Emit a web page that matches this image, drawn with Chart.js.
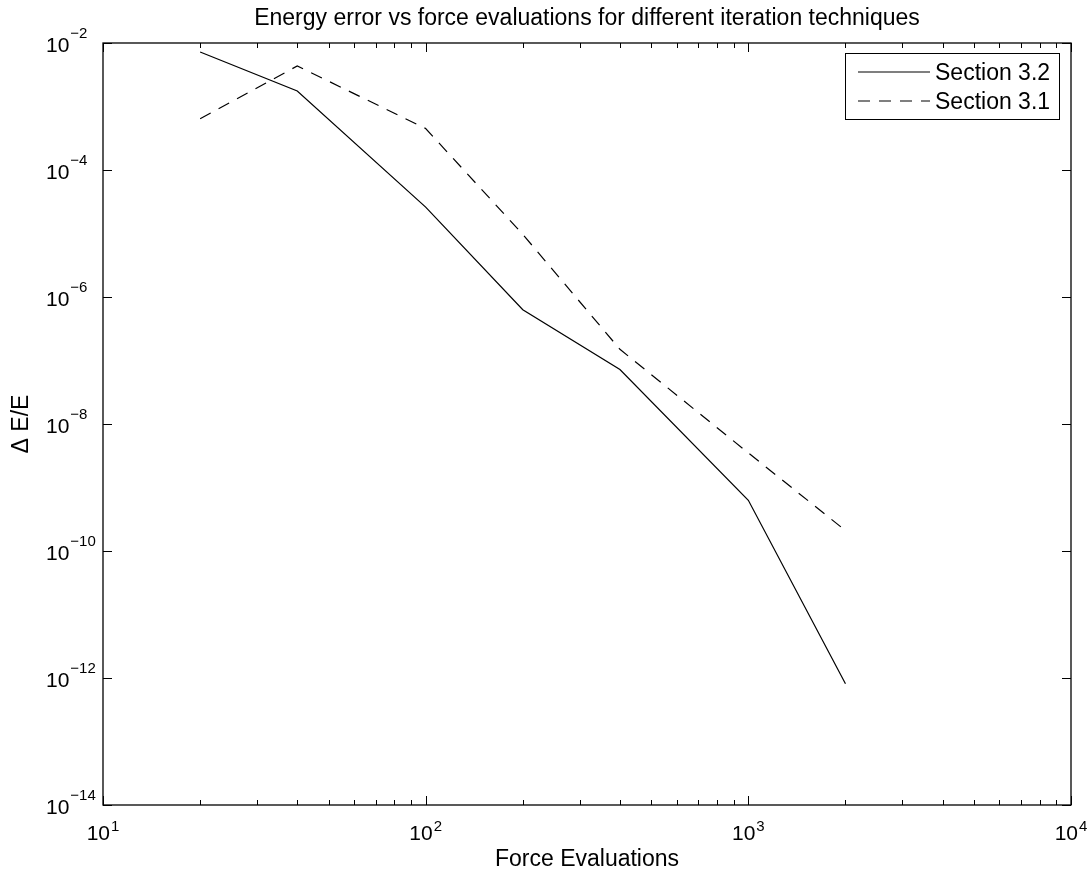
<!DOCTYPE html>
<html>
<head>
<meta charset="utf-8">
<title>Energy error vs force evaluations</title>
<script src="https://cdn.jsdelivr.net/npm/chart.js@4/dist/chart.umd.min.js"></script>
<style>
  body { margin: 0; background: #fff; }
  canvas { display: block; }
</style>
</head>
<body>
<canvas id="erroForca" width="1092" height="873"></canvas>
<script>
// Eixo X: numero de avaliacoes de forca
const forceEvals = [20, 40, 100, 200, 400, 1000, 2000]

// Erro de energia relativo de cada tecnica
const section32 = [7.2e-3, 1.75e-3, 2.6e-5, 6.3e-7, 7.2e-8, 6.3e-10, 8.1e-13]
const section31 = [6.4e-4, 4.35e-3, 4.5e-4, 9.7e-6, 1.5e-7, 3.5e-9, 2.1e-10]

// Expoentes dos rotulos dos eixos (10^n)
const xTickExp = [1, 2, 3, 4]
const yTickExp = [-14, -12, -10, -8, -6, -4, -2]

const seriesNames = ['Section 3.2', 'Section 3.1']

const FONT = '"Liberation Sans", Arial, Helvetica, sans-serif'
const TEXTO = '23px ' + FONT   // titulos e legenda
const NUM = '21px ' + FONT     // "10" dos rotulos
const EXP = '15px ' + FONT     // expoente
const dash = [12, 9]

function pontos(ys) {
    return forceEvals.map((x, i) => ({ x: x, y: ys[i] }))
}

function expoente(n) {
    return n < 0 ? '\u2212' + Math.abs(n) : String(n)
}

// Eixos, marcas, rotulos e legenda no estilo do MATLAB
const molduraMatlab = {
    id: 'molduraMatlab',
    afterDraw(chart) {
        const ctx = chart.ctx
        const a = chart.chartArea
        const sx = chart.scales.x
        const sy = chart.scales.y
        ctx.save()
        ctx.strokeStyle = '#000'
        ctx.fillStyle = '#000'
        ctx.lineWidth = 1.3
        ctx.setLineDash([])
        ctx.strokeRect(a.left, a.top, a.right - a.left, a.bottom - a.top)

        // marcas do eixo X (maiores e menores), em baixo e em cima
        ctx.beginPath()
        for (let e = xTickExp[0]; e <= xTickExp[xTickExp.length - 1]; e++) {
            for (let k = 1; k <= 9; k++) {
                const v = k * Math.pow(10, e)
                if (v > sx.max) break
                const px = Math.round(sx.getPixelForValue(v)) + 0.5
                const len = k === 1 ? 9 : 5
                ctx.moveTo(px, a.bottom); ctx.lineTo(px, a.bottom - len)
                ctx.moveTo(px, a.top); ctx.lineTo(px, a.top + len)
            }
        }
        // marcas do eixo Y, esquerda e direita
        yTickExp.forEach(e => {
            const py = Math.round(sy.getPixelForValue(Math.pow(10, e))) + 0.5
            ctx.moveTo(a.left, py); ctx.lineTo(a.left + 9, py)
            ctx.moveTo(a.right, py); ctx.lineTo(a.right - 9, py)
        })
        ctx.lineWidth = 1
        ctx.stroke()

        // rotulos do eixo X
        ctx.textBaseline = 'alphabetic'
        xTickExp.forEach(e => {
            const px = sx.getPixelForValue(Math.pow(10, e))
            ctx.font = NUM
            const w10 = ctx.measureText('10').width
            ctx.font = EXP
            const wExp = ctx.measureText(expoente(e)).width
            const x0 = px - (w10 + 1 + wExp) / 2
            ctx.font = NUM
            ctx.textAlign = 'left'
            ctx.fillText('10', x0, a.bottom + 35)
            ctx.font = EXP
            ctx.fillText(expoente(e), x0 + w10 + 1, a.bottom + 26)
        })

        // rotulos do eixo Y (alinhados a esquerda)
        yTickExp.forEach(e => {
            const py = sy.getPixelForValue(Math.pow(10, e))
            ctx.font = NUM
            ctx.textAlign = 'left'
            ctx.fillText('10', 46, py + 9)
            const w10 = ctx.measureText('10').width
            ctx.font = EXP
            ctx.fillText(expoente(e), 46 + w10 + 1, py - 5)
        })

        // titulos
        const cx = (a.left + a.right) / 2
        ctx.font = TEXTO
        ctx.textAlign = 'center'
        ctx.fillText('Energy error vs force evaluations for different iteration techniques', cx, 25)
        ctx.fillText('Force Evaluations', cx, a.bottom + 61)
        ctx.save()
        ctx.translate(28, (a.top + a.bottom) / 2)
        ctx.rotate(-Math.PI / 2)
        ctx.fillText('\u0394 E/E', 0, 0)
        ctx.restore()

        // legenda com moldura
        const lx = 845.5, ly = 53.5, lw = 214, lh = 66
        ctx.fillStyle = '#fff'
        ctx.fillRect(lx, ly, lw, lh)
        ctx.lineWidth = 1
        ctx.strokeStyle = '#000'
        ctx.strokeRect(lx, ly, lw, lh)
        ctx.fillStyle = '#000'
        ctx.textAlign = 'left'
        ctx.font = TEXTO
        const linhas = [72, 101]
        chart.data.datasets.forEach((ds, i) => {
            ctx.beginPath()
            ctx.setLineDash(ds.borderDash || [])
            ctx.lineWidth = ds.borderWidth
            ctx.moveTo(858, linhas[i]); ctx.lineTo(930, linhas[i])
            ctx.stroke()
            ctx.setLineDash([])
            ctx.fillText(ds.label, 935, linhas[i] + 8)
        })
        ctx.restore()
    }
}

const data = {
    datasets: [{
        // Linha continua
        label: seriesNames[0],
        data: pontos(section32),
        borderColor: '#000',
        borderWidth: 1.2,
        pointRadius: 0,
        tension: 0
      },
      {
        // Linha tracejada
        label: seriesNames[1],
        data: pontos(section31),
        borderColor: '#000',
        borderWidth: 1.2,
        borderDash: dash,
        pointRadius: 0,
        tension: 0
      }
    ]
}

const config = {
    type: 'line',
    data: data,
    options: {
        responsive: false,
        devicePixelRatio: 1,
        animation: false,
        layout: { padding: { left: 103, top: 43, right: 21, bottom: 68 } },
        plugins: {
            legend: { display: false },
            title: { display: false },
            tooltip: { enabled: false }
        },
        scales: {
            x: {
                type: 'logarithmic',
                min: 10,
                max: 10000,
                ticks: { display: false },
                grid: { display: false, drawTicks: false },
                border: { display: false }
            },
            y: {
                type: 'logarithmic',
                min: 1e-14,
                max: 1e-2,
                ticks: { display: false },
                grid: { display: false, drawTicks: false },
                border: { display: false }
            }
        }
    },
    plugins: [molduraMatlab]
}

const grafico = new Chart(document.getElementById('erroForca'), config)
</script>
</body>
</html>
